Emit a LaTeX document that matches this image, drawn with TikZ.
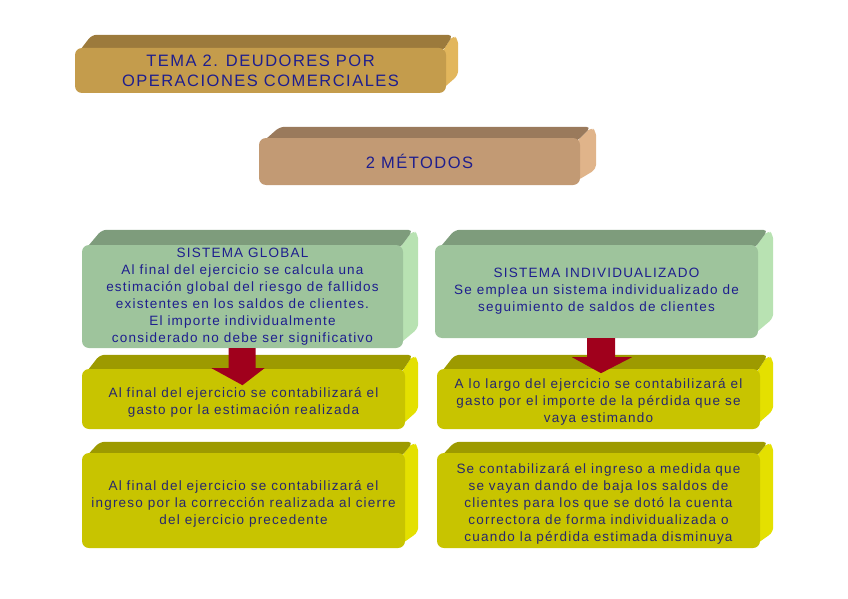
\documentclass[tikz,border=0pt]{standalone}
\usepackage{fontspec}
\setmainfont{Liberation Sans}[LetterSpace=9]
\usetikzlibrary{calc}
\pgfdeclarelayer{background}
\pgfsetlayers{background,main}
\definecolor{txtblue}{HTML}{1E1E8E}
\definecolor{txtdark}{HTML}{28286E}
\definecolor{temaF}{HTML}{C49C4C}
\definecolor{temaT}{HTML}{9C7A3C}
\definecolor{temaS}{HTML}{E2B65C}
\definecolor{metF}{HTML}{C29A74}
\definecolor{metT}{HTML}{9A7A5C}
\definecolor{metS}{HTML}{E0B48A}
\definecolor{grnF}{HTML}{9EC49C}
\definecolor{grnT}{HTML}{7E9C7C}
\definecolor{grnS}{HTML}{B8E2B2}
\definecolor{yelF}{HTML}{C8C400}
\definecolor{yelT}{HTML}{9D9A00}
\definecolor{yelS}{HTML}{E4E000}
\definecolor{arrowred}{HTML}{A0001C}
\newcommand\topgap{\rule{0pt}{16pt}}
% #1 node, #2 top colour, #3 side colour, #4 depth x, #5 depth y
\newcommand\extrudebox[5]{%
  \begin{pgfonlayer}{background}
  \fill[#3, rounded corners=5pt] ($(#1.north east)+(-4,4)$) -- ($(#1.north east)+(#4-5,-#5)$)
    -- ($(#1.north east)+(#4,-#5+5)$) -- ($(#1.south east)+(#4,-#5-5)$) -- ($(#1.south east)+(-4,-4)$) -- cycle;
  \fill[#2, rounded corners=5pt] ($(#1.north west)+(4,4)$) -- ($(#1.north west)+(#4+5,-#5)$)
    -- ($(#1.north east)+(#4-5,-#5)$) -- ($(#1.north east)+(-4,4)$) -- cycle;
  \end{pgfonlayer}}
\begin{document}
\begin{tikzpicture}[x=1pt,y=-1pt,
  front/.style={rectangle, rounded corners=7pt, inner sep=0pt, align=center},
  titlebox/.style={front, text=txtblue, font=\fontsize{16.5}{20}\selectfont},
  bodybox/.style={front, text=txtblue, font=\fontsize{13.5}{17}\selectfont},
  yelbox/.style={front, fill=yelF, text=txtdark, font=\fontsize{13.5}{17}\selectfont}]
\useasboundingbox (0,0) rectangle (848,599);

\node[titlebox, fill=temaF, minimum width=371pt, minimum height=45pt] (tema) at (260.5,70.5)
  {TEMA 2. DEUDORES POR\\OPERACIONES COMERCIALES};
\extrudebox{tema}{temaT}{temaS}{12}{13}

\node[titlebox, fill=metF, minimum width=321pt, minimum height=47pt] (met) at (419.5,161.5) {2 MÉTODOS};
\extrudebox{met}{metT}{metS}{16}{11}

\node[bodybox, fill=grnF, minimum width=321pt, minimum height=103pt] (g1) at (242.5,296.5)
  {SISTEMA GLOBAL\\Al final del ejercicio se calcula una\\estimación global del riesgo de fallidos\\existentes en los saldos de clientes.\\El importe individualmente\\considerado no debe ser significativo};
\extrudebox{g1}{grnT}{grnS}{15}{15}

\node[bodybox, fill=grnF, minimum width=323pt, minimum height=93pt] (g2) at (596.5,291.5)
  {SISTEMA INDIVIDUALIZADO\\Se emplea un sistema individualizado de\\seguimiento de saldos de clientes};
\extrudebox{g2}{grnT}{grnS}{15}{15}

\node[yelbox, minimum width=323pt, minimum height=60pt] (y1) at (243.5,399)
  {\topgap Al final del ejercicio se contabilizará el\\gasto por la estimación realizada};
\extrudebox{y1}{yelT}{yelS}{13}{14}

\node[yelbox, minimum width=323pt, minimum height=60pt] (y2) at (598.5,399)
  {\topgap A lo largo del ejercicio se contabilizará el\\gasto por el importe de la pérdida que se\\vaya estimando};
\extrudebox{y2}{yelT}{yelS}{13}{14}

\node[yelbox, minimum width=323pt, minimum height=95pt] (b1) at (243.5,500.5)
  {\topgap Al final del ejercicio se contabilizará el\\ingreso por la corrección realizada al cierre\\del ejercicio precedente};
\extrudebox{b1}{yelT}{yelS}{13}{11}

\node[yelbox, minimum width=323pt, minimum height=95pt] (b2) at (598.5,500.5)
  {\topgap Se contabilizará el ingreso a medida que\\se vayan dando de baja los saldos de\\clientes para los que se dotó la cuenta\\correctora de forma individualizada o\\cuando la pérdida estimada disminuya};
\extrudebox{b2}{yelT}{yelS}{13}{11}

% block arrows
\fill[arrowred] ($(g1.south)+(-14,0)$) -- ++(27,0) -- ++(0,20) -- ++(9,0)
  -- ($(g1.south)+(0,37)$) -- ($(g1.south)+(-31,20)$) -- ($(g1.south)+(-14,20)$) -- cycle;
\fill[arrowred] ($(g2.south)+(-9.5,0)$) -- ++(28,0) -- ++(0,19) -- ++(17,0)
  -- ($(g2.south)+(4.5,35)$) -- ($(g2.south)+(-24.5,19)$) -- ($(g2.south)+(-9.5,19)$) -- cycle;
\end{tikzpicture}
\end{document}
